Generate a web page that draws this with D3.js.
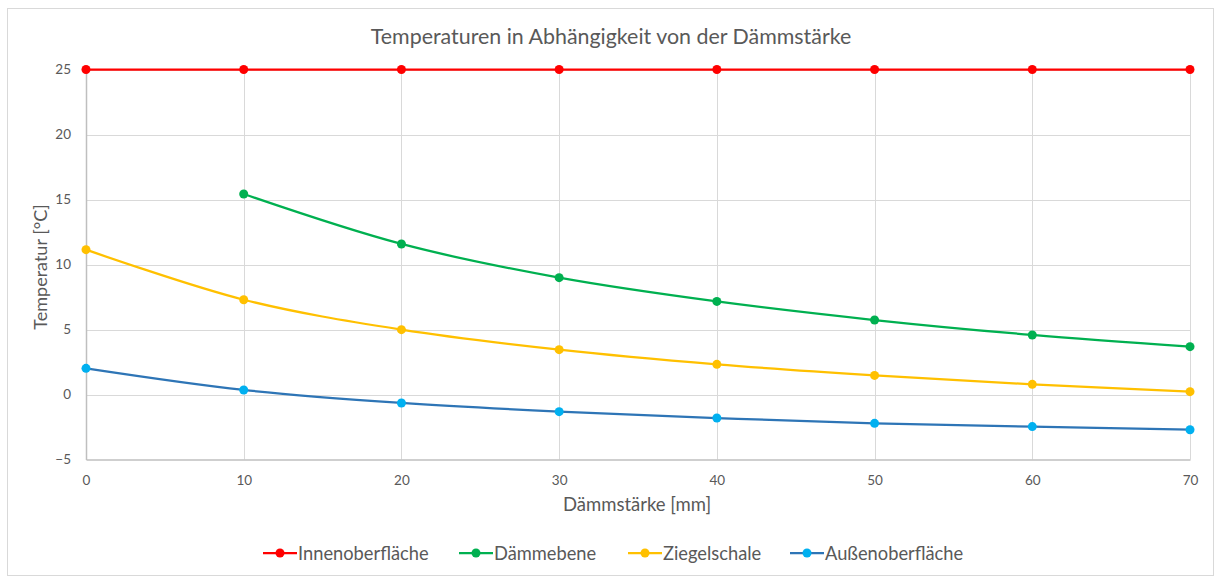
<!DOCTYPE html>
<html><head><meta charset="utf-8">
<script src="https://cdn.jsdelivr.net/npm/d3@7"></script>
<style>body{margin:0;background:#fff}svg{display:block}text{font-family:Lato,"Open Sans",sans-serif;fill:#595959}</style>
</head><body><svg id="c" width="1214" height="576"></svg>
<script>
const thickness = [0, 10, 20, 30, 40, 50, 60, 70];
const innenoberflaeche = [25, 25, 25, 25, 25, 25, 25, 25];
const daemmebene = [null, 15.42, 11.58, 8.99, 7.16, 5.73, 4.58, 3.68];
const ziegelschale = [11.14, 7.29, 4.99, 3.45, 2.32, 1.47, 0.78, 0.22];
const aussenoberflaeche = [2.01, 0.35, -0.65, -1.32, -1.81, -2.22, -2.47, -2.71];
const yTicks = [-5, 0, 5, 10, 15, 20, 25];
const xTicks = [0, 10, 20, 30, 40, 50, 60, 70];
const seriesNames = ["Innenoberfläche", "Dämmebene", "Ziegelschale", "Außenoberfläche"];
const title = "Temperaturen in Abhängigkeit von der Dämmstärke";
const xTitle = "Dämmstärke [mm]";
const yTitle = "Temperatur [°C]";

const series = [
  {name: seriesNames[0], values: innenoberflaeche, line: "#FF0000", marker: "#FF0000"},
  {name: seriesNames[1], values: daemmebene, line: "#00B050", marker: "#00B050"},
  {name: seriesNames[2], values: ziegelschale, line: "#FFC000", marker: "#FFC000"},
  {name: seriesNames[3], values: aussenoberflaeche, line: "#2E75B6", marker: "#00B0F0"}
];

const svg = d3.select("#c");
svg.append("rect").attr("x", 7.5).attr("y", 8.5).attr("width", 1206).attr("height", 567)
  .attr("fill", "#fff").attr("stroke", "#D9D9D9");

const x = d3.scaleLinear().domain([0, 70]).range([86, 1190]);
const y = d3.scaleLinear().domain([-5, 25]).range([459.5, 69.5]);

// gridlines
svg.append("g").selectAll("line.h").data(yTicks.filter(d => d > -5)).join("line")
  .attr("x1", x(0)).attr("x2", x(70)).attr("y1", d => Math.round(y(d)) + 0.5).attr("y2", d => Math.round(y(d)) + 0.5)
  .attr("stroke", "#D9D9D9").attr("stroke-width", 1);
svg.append("g").selectAll("line.v").data(xTicks.filter(d => d > 0)).join("line")
  .attr("x1", d => Math.round(x(d)) + 0.5).attr("x2", d => Math.round(x(d)) + 0.5).attr("y1", y(25)).attr("y2", y(-5))
  .attr("stroke", "#D9D9D9").attr("stroke-width", 1);

// axes
const yAxis = svg.append("g").attr("transform", `translate(${x(0)},0)`)
  .call(d3.axisLeft(y).tickValues(yTicks).tickSize(0).tickPadding(15));
const xAxis = svg.append("g").attr("transform", `translate(0,${y(-5)})`)
  .call(d3.axisBottom(x).tickValues(xTicks).tickSize(0).tickPadding(16));
[yAxis, xAxis].forEach(a => {
  a.select(".domain").attr("stroke", "#BFBFBF").attr("stroke-width", 1.5);
  a.selectAll("text").style("font-size", "13.5px").attr("fill", "#595959");
});

// series
const line = d3.line().defined(d => d.v != null).x(d => x(d.x)).y(d => y(d.v)).curve(d3.curveCatmullRom.alpha(0.5));
series.forEach(s => {
  const pts = thickness.map((t, i) => ({x: t, v: s.values[i]})).filter(d => d.v != null);
  svg.append("path").datum(pts).attr("d", line).attr("fill", "none")
    .attr("stroke", s.line).attr("stroke-width", 2.25).attr("stroke-linecap", "round");
  svg.append("g").selectAll("circle").data(pts).join("circle")
    .attr("cx", d => x(d.x)).attr("cy", d => y(d.v)).attr("r", 4.5).attr("fill", s.marker);
});

// titles
svg.append("text").attr("x", 611).attr("y", 44).attr("text-anchor", "middle")
  .style("font-size", "21.4px").text(title);
svg.append("text").attr("x", 637).attr("y", 511).attr("text-anchor", "middle")
  .style("font-size", "18.5px").text(xTitle);
svg.append("text").attr("transform", "translate(47,267) rotate(-90)").attr("text-anchor", "middle")
  .style("font-size", "18px").text(yTitle);

// legend
const legendX = [263, 459, 628, 790];
const lg = svg.append("g");
series.forEach((s, i) => {
  const g = lg.append("g").attr("transform", `translate(${legendX[i]},553)`);
  g.append("line").attr("x1", 0).attr("x2", 34).attr("stroke", s.line).attr("stroke-width", 2.25);
  g.append("circle").attr("cx", 17).attr("r", 4.5).attr("fill", s.marker);
  g.append("text").attr("x", 35).attr("y", 6.5).style("font-size", "18.3px").text(s.name);
});
</script></body></html>
